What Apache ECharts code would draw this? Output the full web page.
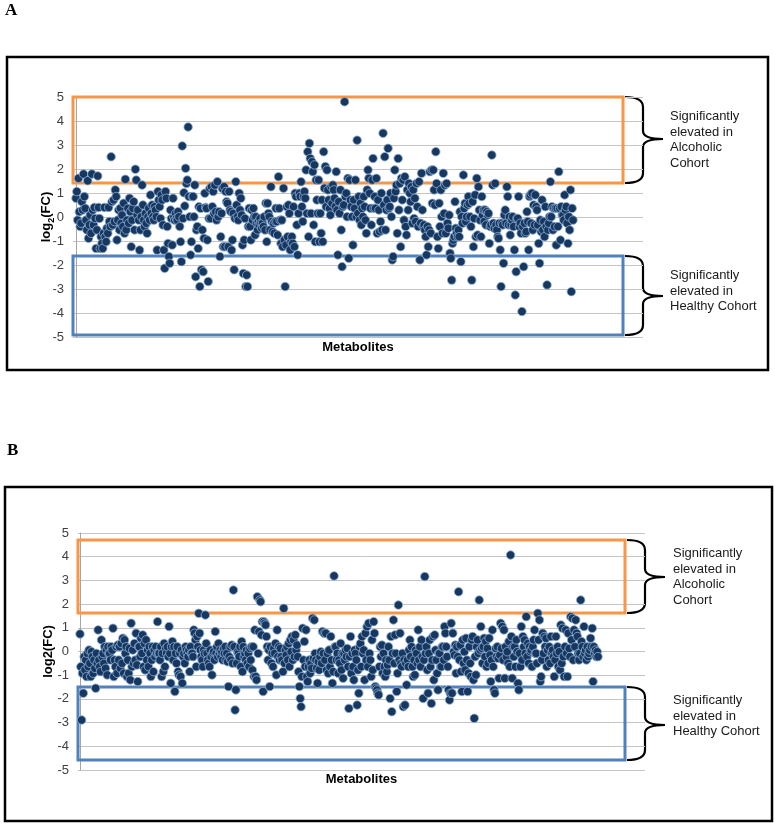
<!DOCTYPE html>
<html><head><meta charset="utf-8">
<script src="https://cdn.jsdelivr.net/npm/echarts@6/dist/echarts.min.js"></script>
<style>html,body{margin:0;padding:0;background:#fff}#c{width:775px;height:825px}</style>
</head><body><div id="c"></div>
<script>
// y-axis ticks
const yTicks = [-5, -4, -3, -2, -1, 0, 1, 2, 3, 4, 5];
// significance thresholds (box extents, log2 FC)
const alcoholBoxA = [1.42, 5.0];
const healthyBoxA = [-4.92, -1.62];
const alcoholBoxB = [1.62, 4.7];
const healthyBoxB = [-4.58, -1.5];

// Panel A log2(FC) values, in metabolite order
const fcA1 = [0.78,1.06,-0.13,1.61,0.22,-0.4,-0.26,0.64,0.29,1.79,0.85,0.36,-0.13,-0.54,1.51,-0.89,-0.33,0.08,-0.68,1.79,0.29,-0.33,0.4,-0.06,-1.31,-0.54,1.71,0.4,-0.06,-1.31,-0.82,-1.1,-1.31,-0.68,0.4,-0.82,-1.03,-0.47,-0.68,0.4,-0.19,-0.4,2.51,0.64,-0.33,0.71,-0.19,1.13,0.85,-0.96,-0.13,0.29,-0.54,0.36,-0.26,0.08,-0.4,0.57,-0.68,1.57,-0.54,-0.13,0.36,-0.26,0.78,0.22,-1.24,-0.13,0.36,0.64,-0.54,1.99,1.54,0.08,0.29,-0.13,-1.38,-0.54,0.01,1.33,0.5,-0.13,-0.4,0.15,-0.26,-0.68,0.01,0.36,-0.13,0.92,0.15,0.5,0.01,-0.13,0.43,0.29,0.01,-1.38,1.06,0.71,0.43,-0.06,0.92,0.71,-0.33,-1.38,-2.14,
  1.06,0.78,-0.4,-1.1,-1.65,-1.93,0.29,-0.06,-1.17,0.78,0.01,-0.13,0.15,-0.06,-0.13,0.22,0.01,-0.4,-1.03,-1.86,2.96,-0.06,1.01,0.46,2.03,1.4,1.54,3.75,0.85,0.01,-1.58,-1.03,0.85,0.85,0.01,1.33,-2.49,-0.54,-0.4,-1.31,0.43,-2.9,0.36,-2.2,-0.54,-2.28,-0.89,0.99,0.4,0.36,-0.96,-2.69,-0.06,1.19,-0.06,1.26,0.43,1.06,0.15,1.33,0.22,-0.13,1.47,0.01,0.22,-1.65,-0.82,0.15,1.19,-1.24,1.26,-1.24,1.06,0.64,0.57,-1.24,1.06,0.29,0.22,-1.38,-0.96,0.15,-2.2,-0.06,1.47,0.5,0.01,-0.13,0.99,0.29,0.78,0.08,-1.17,-2.35,-0.96,-0.06,-2.9,-2.42,-2.9,-0.4,0.36];
const fcA2 = [-0.4,-0.96,0.29,-0.13,0.36,0.01,-0.75,0.01,-0.26,-0.54,-0.19,-0.33,-0.06,-0.26,-0.47,-0.26,-0.4,0.01,-0.54,0.57,-1.03,0.57,0.15,0.01,-0.54,1.26,-0.19,-0.61,-0.26,-0.68,-0.19,0.36,-0.19,-0.75,1.68,0.36,-0.13,-1.1,-0.13,-1.24,1.2,-0.96,-2.9,-1.17,0.43,-0.82,0.5,0.15,-1.37,-1.03,-0.82,-1.1,0.43,-1.24,0.99,0.85,-0.33,-1.58,0.15,0.99,0.85,1.47,0.43,-0.19,0.85,1.06,0.78,1.96,0.15,2.72,-0.82,3.07,2.44,0.15,2.3,1.89,-0.33,2.17,-1.03,1.54,0.71,0.15,1.54,-1.03,0.15,-0.68,0.71,-1.03,2.72,1.2,2.1,0.43,1.96,1.13,0.71,0.36,0.08,1.26,0.57,1.33,1.13,0.78,0.43,1.89,0.29,-1.58,0.64,0.15,1.13,-0.54,-2.07,0.43,0.5,4.8,0.85,0.99,0.01,1.61,-1.72,1.54,0.71,0.43,0.01,-1.17,0.71,0.36,1.54,0.01,3.2,0.15,0.85,-0.13,0.57,-0.33,0.36,0.01,0.85,0.43,-0.13,-0.68,1.13,1.96,1.61,0.99,0.36,-0.33,1.54,2.44,0.36,0.85,0.36,1.61,-0.68,0.71,0.29,-0.61,-0.19,0.99,-0.54,3.49,0.5,2.51,-0.54,0.29,0.71,2.86,0.36,0.43,0.99,0.01,-1.79,-1.65,0.78,1.96,1.06,1.33,-0.68,2.44,0.29,1.4,-1.24,1.61,0.71,1.54,-0.13,1.68,-0.4,-0.75,1.13,0.29,1.4,0.99,0.64,1.26,-0.26,1.13,-0.06,0.78,-0.19,1.4,0.43,-0.4,1.47,-1.79,-0.26,1.82,0.29,-0.4,-0.33,-0.54,-0.82,-1.58,-0.4,-1.24,-0.54,1.89,-0.68,1.96,0.57,1.96,1.13,0.5];
const fcA3 = [2.72,1.4,-0.82,-1.31,0.57,-0.4,1.13,0.01,-0.68,1.82,0.15,1.33,-0.68,1.4,-0.26,-0.47,0.08,-1.51,-1.72,-2.63,-1.1,-0.96,-0.82,0.64,-0.47,-0.68,-0.82,-0.54,-0.82,0.22,-1.86,0.01,-0.26,1.75,0.36,0.57,-0.19,0.01,0.5,0.85,0.57,0.01,-0.4,-2.63,0.64,-1.24,-0.06,0.92,-0.82,1.61,-0.75,1.26,0.29,-0.13,-0.82,0.85,0.08,0.29,-0.19,0.29,-0.33,0.22,0.08,0.15,-1.1,-0.4,-0.33,2.58,1.33,-0.26,-0.47,1.4,-0.33,-0.54,-0.82,-0.89,-0.26,-1.37,-2.9,-0.26,-0.33,-1.93,0.08,0.29,-0.26,1.26,0.85,-0.33,0.01,-0.75,-0.33,-0.13,0.01,-0.4,-1.37,-3.25,-2.28,-0.06,-0.06,0.85,-0.4,-0.26,-0.68,-3.94,-0.4,-2.07,-0.26,-0.68,-0.61,0.22,-0.19,-1.37,0.85,0.92,-0.26,0.99,-0.54,0.5,-0.33,0.92,0.43,0.29,-0.33,-1.1,-1.93,-0.13,-0.61,0.71,-0.54,-0.19,-0.82,0.43,-0.4,-2.83,-0.54,-0.26,0.01,1.47,0.01,0.43,-0.54,0.36,-0.4,0.36,-1.17,0.36,-0.4,1.89,0.36,-0.96,0.43,0.08,0.08,-0.13,0.92,0.29,0.43,-0.26,-1.1,0.01,-0.54,1.13,-3.11,0.36,-0.13];

// Panel B log2(FC) values, in metabolite order
const fcB1 = [0.74,-0.64,-2.89,-0.92,-1.76,-0.22,-0.78,-0.36,-1.06,-0.08,-0.64,0.06,-0.5,-1.06,-0.01,-0.22,-0.92,-0.36,-0.71,-1.55,-0.08,-0.5,0.91,-0.36,-0.64,-0.85,0.49,-0.22,-0.08,-0.5,0.2,-0.71,0.06,-0.99,0.2,-0.08,-0.08,-0.36,0.2,0.06,0.98,-1.06,-0.36,-0.64,0.2,-0.92,0.27,-0.36,0.2,-0.71,0.34,-0.5,0.56,-0.92,0.49,-0.08,0.2,-1.06,-0.36,-0.92,0.13,-1.2,1.19,-0.64,0.06,-0.5,0.34,-0.36,0.77,-0.57,-1.27,0.2,0.2,-0.22,0.56,-0.08,0.7,-0.64,0.34,-0.78,0.49,-0.36,0.06,-0.64,0.2,-0.08,-1.06,-0.36,0.2,-0.85,0.06,-0.22,0.2,-0.08,1.26,-0.08,-0.08,-0.36,0.2,-1.06,-0.08,-0.85,0.34,-0.64,0.13,-0.08,0.2,-0.22,1.05,-0.08,-1.34,0.2,0.42,-0.36,0.2,-1.69,-0.08,-0.5,0.2,-0.85,-0.99,-0.08,-1.06,0.06,-1.34,-0.22,-0.08,-0.5,0.2,0.06,-0.08,-0.22,0.06,-0.85,0.2,-0.08,-0.08,-0.22,0.91,0.77,0.49,-0.64,0.63,0.2,1.61,0.77,0.06,-0.22,-0.36,-0.64,0.06,-0.08,1.54,0.34,-0.08,-0.36,-0.5,-0.64,0.06,-0.22,-0.99,-0.08,-0.01,-0.36,0.84,-0.08,0.2,-0.22,0.34,-0.08,0.06,-0.22,-0.01,-0.36,0.13,-0.08,0.2,-0.36,-0.08,-0.43,-1.48,-0.22,0.2,-0.36,0.27,-0.5,2.59,0.2,-2.47,-1.62,-0.5,-0.01,-0.08,-0.22,0.2,-0.64,0.42,-0.85,0.2,-0.22,-0.08,-0.36,0.06,-0.5,-0.08,-0.64,0.13,-0.36,0.2,-0.78,0.2,-1.06,0.91,-1.06,-1.2,2.31,-0.08,0.84,2.17,2.1,0.7,1.26,-1.69];
const fcB2 = [1.26,1.19,1.12,0.63,0.2,-0.36,0.06,-1.48,0.2,-0.5,-0.08,-0.64,0.13,-0.08,0.34,-0.99,0.91,-0.22,0.2,-0.36,0.13,-0.22,-0.36,-0.85,1.82,-0.5,0.06,-0.15,0.2,-0.36,0.34,-0.64,0.49,-0.01,0.63,-0.36,0.49,-0.22,0.7,0.06,0.27,-0.22,-0.85,-1.48,-1.98,-2.33,-1.06,0.98,-0.36,0.42,-0.64,0.91,-1.06,-1.27,-0.64,-0.36,-0.92,-0.5,-0.71,1.4,-0.29,1.33,-0.08,-0.36,-0.71,-1.34,-0.43,-0.78,-0.22,-0.01,-0.5,0.84,-0.08,0.77,-0.36,0.77,-0.78,-0.08,-0.92,0.06,-0.64,0.63,-0.36,-1.34,-0.85,3.19,0.2,0.2,-0.36,-0.08,-0.92,-0.36,-0.5,0.34,-0.78,-0.08,-1.13,-0.08,-0.36,0.06,-0.22,0.13,-0.64,-2.4,-0.22,0.63,-0.92,-0.08,-0.64,-1.2,0.06,-0.08,-0.36,-2.26,-0.78,-1.76,0.2,0.34,-0.64,0.63,-0.08,0.06,-1.2,0.77,-0.36,1.05,-0.64,1.19,-0.08,-0.36,-1.06,0.49,-0.78,1.26,0.77,-1.48,-1.55,-1.62,-1.76,-1.83,-0.64,0.2,-0.22,0.27,-0.92,-0.08,-0.64,-1.06,-0.36,-0.85,-0.57,0.2,-0.36,-1.98,0.63,-2.54,-0.08,1.33,-0.5,0.7,-0.08,-1.69,-0.92,1.96,-0.36,0.77,-0.5,-0.64,-0.08,-2.33,-0.36,-2.26,-0.5,-1.41,-0.36,-0.64,0.06,0.49,-0.22,0.2,-0.64,-1.06,-0.36,-0.99,0.06,-0.08,-0.5,0.91,-0.36,0.2,-0.64,0.49,-0.22,-1.98,-0.36,3.16,-0.08,0.2,-0.78,-1.76,-0.08,0.49,-0.64,-2.19,-0.36,0.63,-1.2,0.7,0.06,-0.36,-0.92,-1.62,-0.08,-0.08,-0.64,-0.64,0.2,0.2,-0.36];
const fcB3 = [1.05,0.77,0.2,-0.22,-0.64,-1.62,-2.05,-1.76,1.19,-1.76,0.77,-0.01,-0.15,0.27,-0.92,0.2,-0.22,2.52,-0.36,0.27,-0.85,-1.69,0.49,-0.5,-0.01,-0.78,0.56,-0.36,-1.69,-0.92,0.2,-0.5,-1.06,0.49,0.63,-1.2,-2.82,-0.22,-0.99,0.2,0.49,-0.08,2.17,0.06,1.05,0.13,-0.5,0.2,0.56,-0.22,0.42,-0.64,0.13,-0.5,0.56,-0.15,-1.27,-0.36,0.91,-0.64,-1.62,-1.76,0.13,-0.22,0.2,-0.29,-1.13,-0.15,1.19,0.13,1.05,-0.36,0.91,-1.13,0.2,-0.22,-0.01,-0.5,0.42,-0.64,4.07,0.63,-1.13,0.2,-0.22,0.2,-0.64,0.49,-0.01,-1.34,-1.62,-0.08,-0.64,1.05,-0.36,0.63,0.2,0.49,-0.08,1.47,-0.22,0.34,-0.5,0.2,-0.01,0.06,-0.64,0.2,0.49,0.91,-0.08,-0.08,-0.5,1.61,0.49,1.33,-1.27,-1.06,-0.36,0.77,-0.08,0.63,0.2,0.56,-0.64,0.06,-0.36,0.2,-0.5,0.63,-0.08,0.06,-0.22,-1.06,-0.36,0.63,-0.08,0.2,-0.64,-0.01,-0.78,1.12,-0.5,0.98,-0.22,-1.06,0.2,0.91,-0.08,-1.06,0.77,0.13,-0.22,1.47,0.49,1.4,-0.36,0.91,0.2,1.33,0.77,0.63,-0.08,-0.36,-0.08,2.17,0.42,0.2,-0.22,1.05,-0.08,0.06,-0.36,0.2,-0.22,-0.08,0.06,0.56,0.2,0.98,-1.27,0.2,-0.08,0.06,-0.22,-0.01,-0.22];

const fcA = fcA1.concat(fcA2, fcA3);
const fcB = fcB1.concat(fcB2, fcB3);

const FONT = '"Liberation Sans", Arial, sans-serif';
const nA = fcA.length - 1, nB = fcB.length - 1;
// x-axis extents in metabolite-index units (layout proportions)
const xA = { min: -nA * 3 / 497, max: nA * 567 / 497, box: nA * 547 / 497 };
const xB = { min: -nB * 2 / 518, max: nB * 565 / 518, box: nB * 545 / 518 };

const chart = echarts.init(document.getElementById('c'), null, { renderer: 'canvas' });

function yAxisCfg(gridIndex, name, rich, gap) {
  return {
    gridIndex, type: 'value', min: yTicks[0], max: yTicks[yTicks.length - 1], interval: 1,
    axisLine: { show: true, lineStyle: { color: '#a6a6a6', width: 1 } },
    axisTick: { show: false },
    axisLabel: { color: '#404040', fontSize: 13, fontFamily: FONT, margin: 9 },
    splitLine: { show: true, lineStyle: { color: '#c4c4c4', width: 1 } },
    name, nameLocation: 'middle', nameGap: gap, nameRotate: 90, nameMoveOverlap: false,
    nameTextStyle: { color: '#000', fontSize: 13, fontWeight: 'bold', fontFamily: FONT, rich }
  };
}
function xAxisCfg(gridIndex, r, gap) {
  return {
    gridIndex, type: 'value', min: r.min, max: r.max,
    axisLine: { show: false }, axisTick: { show: false }, axisLabel: { show: false }, splitLine: { show: false },
    name: 'Metabolites', nameLocation: 'middle', nameGap: gap, nameMoveOverlap: false,
    nameTextStyle: { color: '#000', fontSize: 13, fontWeight: 'bold', fontFamily: FONT }
  };
}
function boxes(r, up, down) {
  return {
    silent: true,
    label: { show: false },
    data: [
      [{ xAxis: r.min, yAxis: up[0], itemStyle: { color: 'rgba(0,0,0,0)', borderColor: '#F79646', borderWidth: 3 } },
       { xAxis: r.box, yAxis: up[1] }],
      [{ xAxis: r.min, yAxis: down[0], itemStyle: { color: 'rgba(0,0,0,0)', borderColor: '#4F81BD', borderWidth: 3 } },
       { xAxis: r.box, yAxis: down[1] }]
    ]
  };
}
const dotStyle = { color: '#17375E', borderColor: '#8DB0DA', borderWidth: 0.8, opacity: 1 };

// curly brace annotation built from simple shapes
function brace(x0, top, bottom, mid) {
  const xv = x0 + 18, xt = x0 + 38;
  const st = { stroke: '#000', lineWidth: 2.2, fill: null };
  const bz = (x1, y1, cx, cy, x2, y2) => ({ type: 'bezierCurve', silent: true, shape: { x1, y1, x2, y2, cpx1: cx, cpy1: cy }, style: st });
  const ln = (x1, y1, x2, y2) => ({ type: 'line', silent: true, shape: { x1, y1, x2, y2 }, style: st });
  return {
    type: 'group', silent: true,
    children: [
      bz(x0, top, xv, top, xv, top + 10),
      ln(xv, top + 10, xv, mid - 8),
      bz(xv, mid - 8, xv, mid, xt, mid),
      bz(xt, mid, xv, mid, xv, mid + 8),
      ln(xv, mid + 8, xv, bottom - 10),
      bz(xv, bottom - 10, xv, bottom, x0, bottom)
    ]
  };
}
function note(x, y, txt) {
  return { type: 'text', silent: true, x, y,
    style: { text: txt, font: '13px ' + FONT, fill: '#1a1a1a', lineHeight: 15.7, verticalAlign: 'middle' } };
}

const option = {
  animation: false,
  backgroundColor: '#fff',
  grid: [
    { left: 73, top: 97, width: 570, height: 240 },
    { left: 78, top: 533, width: 567, height: 237 }
  ],
  xAxis: [xAxisCfg(0, xA, 4), xAxisCfg(1, xB, 3)],
  yAxis: [
    yAxisCfg(0, '{t|log}{s|2}{t|(FC)}', {
      t: { fontSize: 13, fontWeight: 'bold', fontFamily: FONT, color: '#000', padding: [0, 0, 3, 0], verticalAlign: 'bottom' },
      s: { fontSize: 9, fontWeight: 'bold', fontFamily: FONT, color: '#000', verticalAlign: 'bottom' }
    }, 17),
    yAxisCfg(1, 'log2(FC)', undefined, 23)
  ],
  series: [
    { type: 'scatter', xAxisIndex: 0, yAxisIndex: 0, symbolSize: 8.5, itemStyle: dotStyle,
      data: fcA.map((v, i) => [i, v]), markArea: boxes(xA, alcoholBoxA, healthyBoxA), z: 3 },
    { type: 'scatter', xAxisIndex: 1, yAxisIndex: 1, symbolSize: 8.5, itemStyle: dotStyle,
      data: fcB.map((v, i) => [i, v]), markArea: boxes(xB, alcoholBoxB, healthyBoxB), z: 3 }
  ],
  graphic: [
    { type: 'rect', silent: true, shape: { x: 7, y: 57, width: 761, height: 313 }, style: { stroke: '#000', lineWidth: 2.5, fill: null } },
    { type: 'rect', silent: true, shape: { x: 5, y: 487, width: 767, height: 334 }, style: { stroke: '#000', lineWidth: 2.5, fill: null } },
    { type: 'text', silent: true, x: 5, y: 2, style: { text: 'A', font: 'bold 17px "Liberation Serif", "Times New Roman", serif', fill: '#000' } },
    { type: 'text', silent: true, x: 7, y: 442, style: { text: 'B', font: 'bold 17px "Liberation Serif", "Times New Roman", serif', fill: '#000' } },
    brace(625, 97, 183, 139),
    brace(625, 256, 335, 296),
    brace(627, 540, 613, 577),
    brace(627, 687, 760, 725),
    note(670, 140, 'Significantly\nelevated in\nAlcoholic\nCohort'),
    note(670, 291, 'Significantly\nelevated in\nHealthy Cohort'),
    note(673, 577, 'Significantly\nelevated in\nAlcoholic\nCohort'),
    note(673, 716, 'Significantly\nelevated in\nHealthy Cohort')
  ]
};
chart.setOption(option);
</script>
</body></html>
